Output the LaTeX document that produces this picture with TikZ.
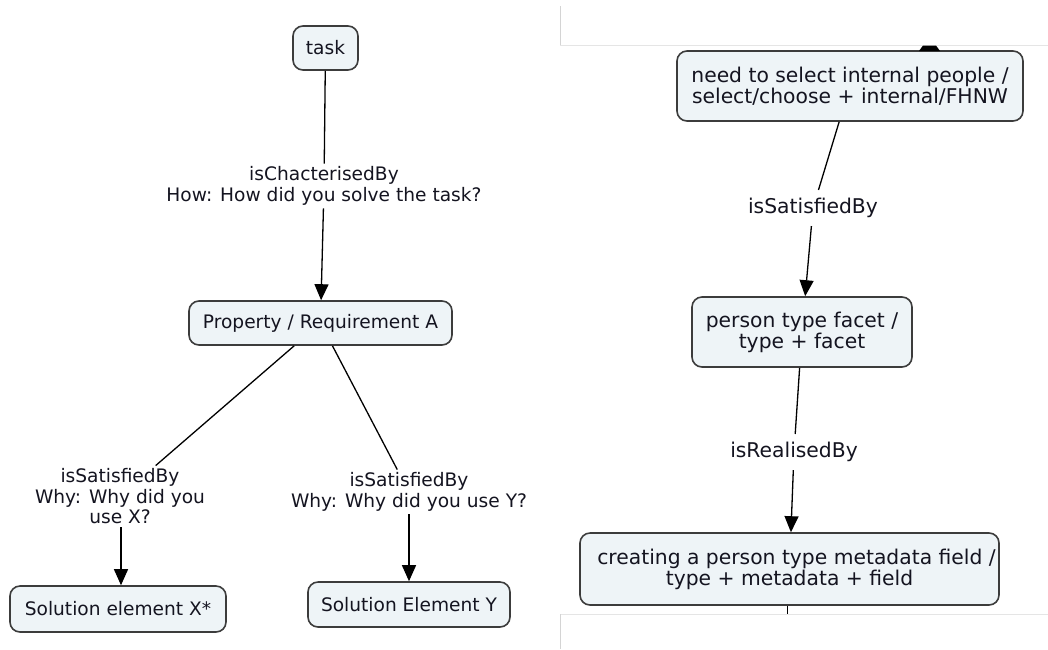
\documentclass[tikz,border=0pt]{standalone}
\usepackage{fontspec}
\setmainfont{DejaVu Sans}
\usetikzlibrary{arrows.meta}
\definecolor{nodefill}{HTML}{EEF4F7}
\definecolor{nodeedge}{HTML}{3C3C3C}
\definecolor{txt}{HTML}{141420}
\definecolor{panelgray}{HTML}{D4D4D4}
\begin{document}
\begin{tikzpicture}[x=1pt,y=-1pt,
  concept/.style={draw=nodeedge, line width=1.6pt, fill=nodefill, rounded corners=10pt,
    align=center, inner sep=0pt, text=txt},
  lblL/.style={align=center, inner sep=3pt, text=txt, font=\fontsize{18.6}{20.5}\selectfont},
  lblR/.style={align=center, inner sep=8pt, text=txt, font=\fontsize{20.3}{21}\selectfont},
  fontL/.style={font=\fontsize{18.6}{20.5}\selectfont},
  fontR/.style={font=\fontsize{20.3}{21}\selectfont},
  link/.style={draw=black, line width=1.3pt},
  arrowlink/.style={link, -{Triangle[width=14pt,length=16pt]}}
]
\useasboundingbox (0,0) rectangle (1048,649);
\fill[white] (0,0) rectangle (1048,649);

% right panel frame lines
\draw[panelgray, line width=1pt] (560,6) -- (560,45);
\draw[black!10, line width=1pt] (560,45) -- (1048,45);
\draw[black!10, line width=1pt] (560,614) -- (1048,614);
\draw[panelgray, line width=1pt] (560,614) -- (560,649);

% ---------- left map ----------
\node[concept, fontL, minimum width=65pt, minimum height=44pt] (task) at (325.5,48) {task};
\node[concept, fontL, minimum width=263pt, minimum height=44pt] (prop) at (320.5,323) {Property / Requirement A};
\node[concept, fontL, minimum width=216pt, minimum height=46pt] (solX) at (118,609) {Solution element X*};
\node[concept, fontL, minimum width=202pt, minimum height=45pt] (solY) at (409,604.5) {Solution Element Y};

\node[lblL] (lab1) at (324,186) {isChacterisedBy\\How: How did you solve the task?};
\node[lblL] (labX) at (120,496.5) {isSatisfiedBy\\Why: Why did you\\use X?};
\node[lblL] (labY) at (409,492) {isSatisfiedBy\\Why: Why did you use Y?};

\draw[link] (task) -- (lab1);
\draw[arrowlink] (lab1) -- (prop);
\draw[link] (prop) -- (labX);
\draw[arrowlink] (labX.south -| solX.north) ++(3,0) coordinate (xs) -- (xs |- solX.north);
\draw[link] (prop) -- (labY);
\draw[arrowlink] (labY) -- (solY);

% ---------- right map ----------
\node[concept, fontR, minimum width=346pt, minimum height=70pt] (n1) at (850,86)
  {need to select internal people /\\select/choose + internal/FHNW};
\node[concept, fontR, minimum width=220pt, minimum height=70pt] (n2) at (802,332)
  {person type facet /\\type + facet};
\node[concept, fontR, minimum width=419pt, minimum height=72pt] (n3) at (789.5,569)
  {\hspace*{14pt}creating a person type metadata field /\\type + metadata + field};

\node[lblR] (labA) at (813,208) {isSatisfiedBy};
\node[lblR] (labB) at (794,452) {isRealisedBy};

\draw[link] (n1) -- (labA);
\draw[arrowlink] (labA) -- (n2);
\draw[link] (n2) -- (labB);
\draw[arrowlink] (labB) -- (n3);

% cut-off arrow tip above n1 and stub below n3
\fill[black] (919,51) -- (923,45.5) -- (936,45.5) -- (940,51) -- cycle;
\coordinate (stubend) at (n3.south |- 0,614);
\draw[link] ([xshift=-2pt]n3.south) -- ([xshift=-2pt]stubend);
\end{tikzpicture}
\end{document}
